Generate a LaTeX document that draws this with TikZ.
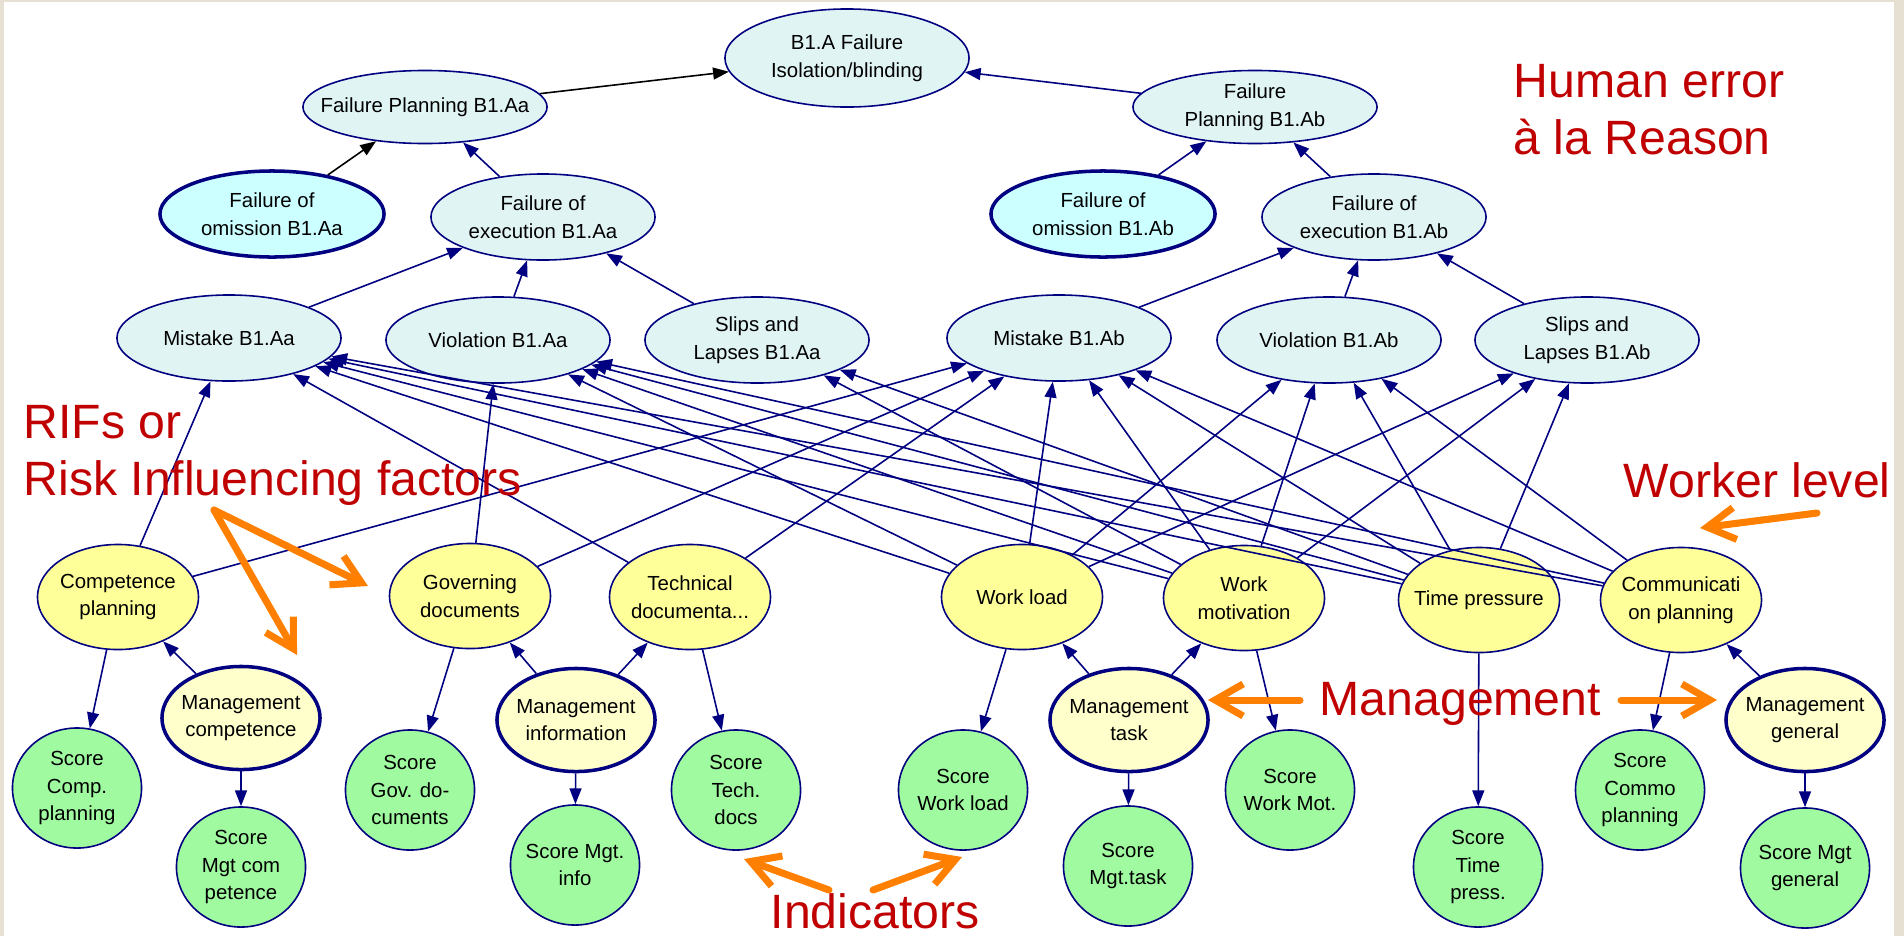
\documentclass[tikz,border=0pt]{standalone}
\usepackage{fontspec}
\setmainfont{Liberation Sans}
\usetikzlibrary{shapes.geometric,arrows.meta}
\definecolor{netblue}{RGB}{0,0,128}
\definecolor{errfill}{RGB}{225,244,244}
\definecolor{omitfill}{RGB}{204,255,255}
\definecolor{riffill}{RGB}{255,255,153}
\definecolor{mgtfill}{RGB}{255,255,204}
\definecolor{scorefill}{RGB}{160,250,160}
\definecolor{notered}{RGB}{192,0,0}
\definecolor{noteorange}{RGB}{255,128,0}
\definecolor{pagebeige}{RGB}{230,224,210}
\tikzset{bnnode/.style={
            draw=netblue,
            ellipse,
            line width=0.45pt,
            inner xsep=-4mm,
            inner ysep=0pt,
            align=center,
            font=\fontsize{5.8}{7.9}\selectfont
        },
        errnode/.style={
            bnnode,
            fill=errfill,
            minimum width=2.24cm,
            minimum height=0.86cm
        },
        topnode/.style={
            errnode,
            minimum width=2.44cm,
            minimum height=0.98cm
        },
        plannode/.style={
            errnode,
            minimum width=2.44cm,
            minimum height=0.73cm
        },
        omitnode/.style={
            errnode,
            fill=omitfill,
            line width=1pt
        },
        rifnode/.style={
            bnnode,
            fill=riffill,
            minimum width=1.61cm,
            minimum height=1.05cm
        },
        mgtnode/.style={
            bnnode,
            fill=mgtfill,
            line width=1pt,
            minimum width=1.58cm,
            minimum height=1.03cm
        },
        scorenode/.style={
            bnnode,
            fill=scorefill,
            minimum width=1.29cm,
            minimum height=1.20cm
        },
        link/.style={
            ->,
            >={Triangle[length=4.5pt,width=3.4pt]},
            netblue,
            line width=0.45pt
        },
        note/.style={
            notered,
            anchor=base west,
            inner sep=0pt,
            align=left,
            font=\fontsize{13.7}{16}\selectfont
        },
        pointer/.style={
            noteorange,
            line width=2pt,
            line cap=round,
            -{Straight Barb[length=2.8mm,width=3.2mm]}
        }
    }

\begin{document}
\begin{tikzpicture}[x=0.01cm,y=-0.01cm]
        \fill[pagebeige] (0,0) rectangle (1904,936);
        \fill[white] (4,2) rectangle (1894,936);
        \useasboundingbox (0,0) rectangle (1904,936);

        % failure and error nodes
        \node[topnode] (b1a) at (847,58) {B1.A Failure\\Isolation/blinding};
        \node[plannode] (planAa) at (425,107) {Failure Planning B1.Aa};
        \node[plannode] (planAb) at (1255,107) {Failure\\Planning B1.Ab};
        \node[omitnode] (omitAa) at (272,214) {Failure of\\omission B1.Aa};
        \node[errnode] (execAa) at (543,217) {Failure of\\execution B1.Aa};
        \node[omitnode] (omitAb) at (1103,214) {Failure of\\omission B1.Ab};
        \node[errnode] (execAb) at (1374,217) {Failure of\\execution B1.Ab};
        \node[errnode] (mistAa) at (229,338) {Mistake B1.Aa};
        \node[errnode] (violAa) at (498,340) {Violation B1.Aa};
        \node[errnode] (slipsAa) at (757,340) {Slips and\\Lapses B1.Aa};
        \node[errnode] (mistAb) at (1059,338) {Mistake B1.Ab};
        \node[errnode] (violAb) at (1329,340) {Violation B1.Ab};
        \node[errnode] (slipsAb) at (1587,340) {Slips and\\Lapses B1.Ab};

        % risk influencing factors
        \node[rifnode] (cplan) at (118,597) {Competence\\planning};
        \node[rifnode] (govdoc) at (470,596) {Governing\\documents};
        \node[rifnode] (techdoc) at (690,597) {Technical\\documenta...};
        \node[rifnode] (wload) at (1022,597) {Work load};
        \node[rifnode] (wmot) at (1244,598) {Work\\motivation};
        \node[rifnode] (tpress) at (1479,600) {Time pressure};
        \node[rifnode] (cpl) at (1681,600) {Communicati\\on planning};

        % management
        \node[mgtnode] (mgtComp) at (241,718) {Management\\competence};
        \node[mgtnode] (mgtInfo) at (576,720) {Management\\information};
        \node[mgtnode] (mgtTask) at (1129,720) {Management\\task};
        \node[mgtnode] (mgtGen) at (1805,720) {Management\\general};

        % indicators
        \node[scorenode] (scCplan) at (77,788) {Score\\Comp.\\planning};
        \node[scorenode] (scMgtComp) at (241,867) {Score\\Mgt com\\petence};
        \node[scorenode] (scGov) at (410,790) {Score\\Gov. do-\\cuments};
        \node[scorenode] (scMgtInfo) at (575,865) {Score Mgt.\\info};
        \node[scorenode] (scTech) at (736,790) {Score\\Tech.\\docs};
        \node[scorenode] (scWload) at (963,790) {Score\\Work load};
        \node[scorenode] (scMgtTask) at (1128,866) {Score\\Mgt.task};
        \node[scorenode] (scWmot) at (1290,790) {Score\\Work Mot.};
        \node[scorenode] (scTpress) at (1478,867) {Score\\Time\\press.};
        \node[scorenode] (scCommo) at (1640,790) {Score\\Commo\\planning};
        \node[scorenode] (scMgtGen) at (1805,868) {Score Mgt\\general};

        \draw[link, black] (planAa) -- (b1a);
        \draw[link] (planAb) -- (b1a);
        \draw[link, black] (omitAa) -- (planAa);
        \draw[link] (execAa) -- (planAa);
        \draw[link] (omitAb) -- (planAb);
        \draw[link] (execAb) -- (planAb);
        \foreach \err in {mistAa, violAa, slipsAa}
            \draw[link] (\err) -- (execAa);
        \foreach \err in {mistAb, violAb, slipsAb}
            \draw[link] (\err) -- (execAb);

        \foreach \rif/\err in {cplan/mistAa, cplan/mistAb, govdoc/violAa, govdoc/mistAb,
                techdoc/mistAa, techdoc/mistAb, wmot/slipsAa, tpress/slipsAa,
                wload/slipsAb, wmot/slipsAb, tpress/slipsAb}
            \draw[link] (\rif) -- (\err);
        \foreach \rif in {wload, wmot, tpress, cpl}
            \foreach \err in {mistAa, violAa, mistAb, violAb}
                \draw[link] (\rif) -- (\err);

        \draw[link] (cplan) -- (scCplan);
        \draw[link] (mgtComp) -- (cplan);
        \draw[link] (mgtComp) -- (scMgtComp);
        \draw[link] (govdoc) -- (scGov);
        \draw[link] (mgtInfo) -- (govdoc);
        \draw[link] (mgtInfo) -- (techdoc);
        \draw[link] (mgtInfo) -- (scMgtInfo);
        \draw[link] (techdoc) -- (scTech);
        \draw[link] (wload) -- (scWload);
        \draw[link] (mgtTask) -- (wload);
        \draw[link] (mgtTask) -- (wmot);
        \draw[link] (mgtTask) -- (scMgtTask);
        \draw[link] (wmot) -- (scWmot);
        \draw[link] (tpress) -- (scTpress);
        \draw[link] (cpl) -- (scCommo);
        \draw[link] (mgtGen) -- (cpl);
        \draw[link] (mgtGen) -- (scMgtGen);

        % annotations (base = last line)
        \node[note] (reason) at (1513,154) {Human error\\à la Reason};
        \node[note] (rifs) at (23,495) {RIFs or\\Risk Influencing factors};
        \node[note] (worker) at (1623,497) {Worker level};
        \node[note] (mgmt) at (1319,715) {Management};
        \node[note] (indic) at (770,928) {Indicators};

        \coordinate (rifsplit) at (214,510);
        \coordinate (rifgov) at (368,586);
        \coordinate (rifmgt) at (297,655);
        \coordinate (workerfrom) at (1817,513);
        \coordinate (workerto) at (1700,528);
        \coordinate (mgmtleft) at (1300,700);
        \coordinate (mgmttask) at (1208,700);
        \coordinate (mgmtright) at (1621,700);
        \coordinate (mgmtgen) at (1717,700);
        \coordinate (indleft) at (829,890);
        \coordinate (indtech) at (744,859);
        \coordinate (indright) at (873,890);
        \coordinate (indwload) at (962,857);
        \draw[pointer] (rifsplit) -- (rifgov);
        \draw[pointer] (rifsplit) -- (rifmgt);
        \draw[pointer] (workerfrom) -- (workerto);
        \draw[pointer] (mgmtleft) -- (mgmttask);
        \draw[pointer] (mgmtright) -- (mgmtgen);
        \draw[pointer] (indleft) -- (indtech);
        \draw[pointer] (indright) -- (indwload);
    \end{tikzpicture}
\end{document}
